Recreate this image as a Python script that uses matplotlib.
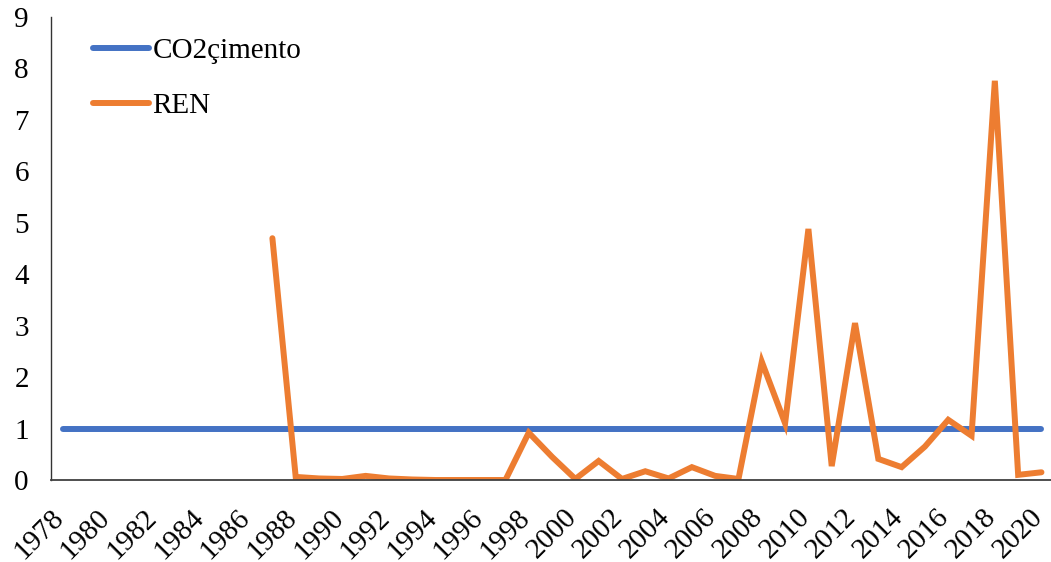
import matplotlib
matplotlib.use("Agg")
import matplotlib.pyplot as plt
from matplotlib.transforms import ScaledTranslation

years = list(range(1978, 2021))
co2_cimento = [1] * len(years)
ren_years = list(range(1987, 2021))
ren = [4.70, 0.06, 0.03, 0.02, 0.08, 0.03, 0.01, 0.0, 0.0, 0.0, 0.0,
       0.92, 0.45, 0.02, 0.37, 0.02, 0.17, 0.03, 0.25, 0.08, 0.02,
       2.30, 1.10, 4.88, 0.27, 3.05, 0.41, 0.25, 0.65, 1.17, 0.86,
       7.76, 0.10, 0.15]
xtick_labels = [str(y) for y in range(1978, 2021, 2)]

plt.rcParams['font.family'] = ['Liberation Serif', 'DejaVu Serif']
FS = 21

fig = plt.figure(figsize=(10.51, 5.62), dpi=100)
ax = fig.add_axes([51/1051, 1 - 480/562, 1 - 51/1051 + 0.002, (480 - 17)/562])

ax.plot(years, co2_cimento, color='#4472C4', lw=4.3, solid_capstyle='round', label='CO2çimento')
ax.plot(ren_years, ren, color='#ED7D31', lw=4.3, solid_capstyle='round',
        solid_joinstyle='miter', label='REN')

ax.set_xlim(1977.5, 2020.5)
ax.set_ylim(0, 9)
ax.set_yticks(range(0, 10))
ax.set_xticks(range(1978, 2021, 2))
ax.set_xticklabels(xtick_labels, rotation=45, ha='right', va='center', rotation_mode='anchor')
ax.tick_params(axis='both', length=0, labelsize=FS)
ax.tick_params(axis='y', pad=16)
ax.tick_params(axis='x', pad=24)
offset = ScaledTranslation(-3/100, 0, fig.dpi_scale_trans)
for lbl in ax.get_xticklabels():
    lbl.set_transform(lbl.get_transform() + offset)

for s in ['top', 'right']:
    ax.spines[s].set_visible(False)
ax.spines['left'].set_color('#333333')
ax.spines['bottom'].set_color('#404040')
ax.spines['left'].set_linewidth(1.0)
ax.spines['bottom'].set_linewidth(1.3)

leg = ax.legend(loc='upper left', bbox_to_anchor=(0.022, 1.0), frameon=False, fontsize=FS,
                handlelength=1.9, handletextpad=0.12, labelspacing=1.0, borderaxespad=0.3)

fig.savefig('out.png', dpi=100)
